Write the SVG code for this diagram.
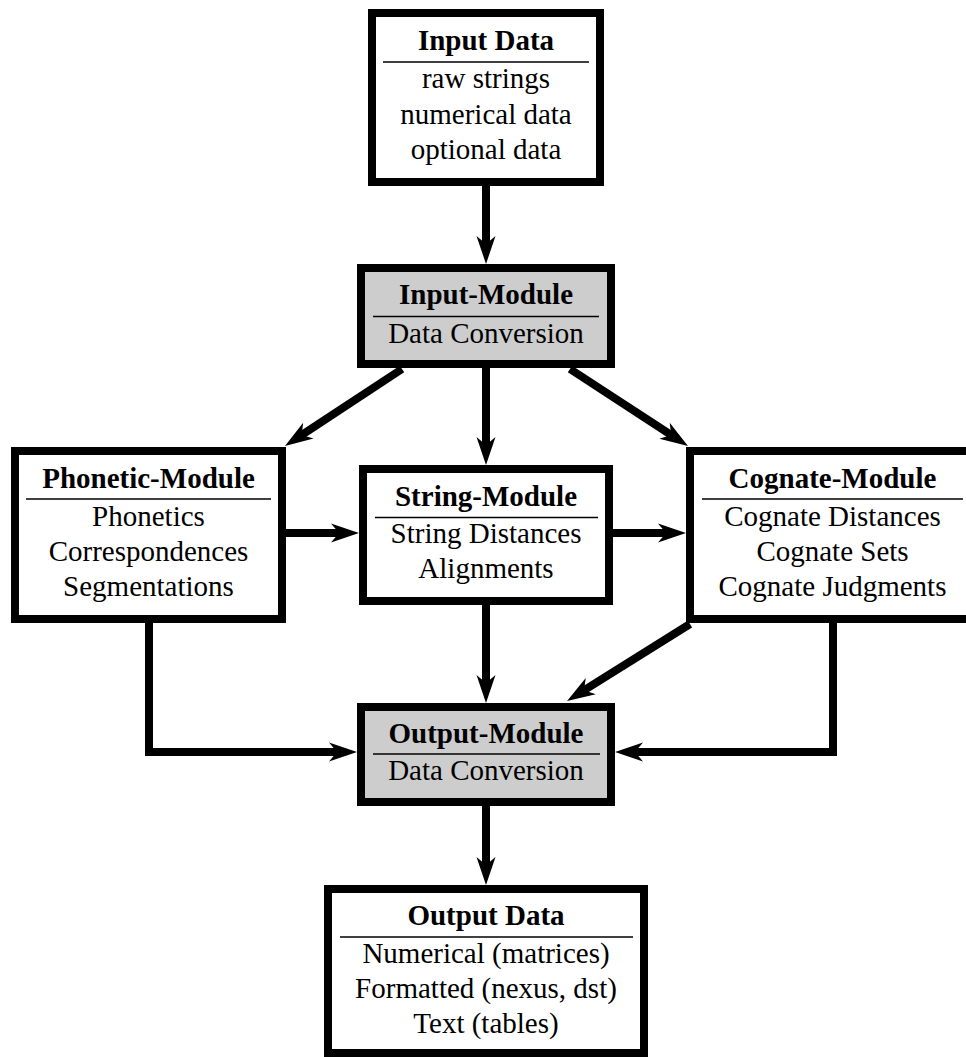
<svg xmlns="http://www.w3.org/2000/svg" width="966" height="1057" viewBox="0 0 966 1057">
  <style>
    .box { fill: #ffffff; stroke: #000000; stroke-width: 8; }
    .mod { fill: #cdcdcd; stroke: #000000; stroke-width: 8; }
    .sep { stroke: #000000; stroke-width: 1.3; }
    .t { font-family: "Liberation Serif", "Times New Roman", serif; font-size: 29px; text-anchor: middle; fill: #000; }
    .b { font-weight: bold; }
    .c { fill: none; stroke: #000000; stroke-width: 8; stroke-linejoin: miter; }
  </style>
  <defs>
    <marker id="ah" markerUnits="userSpaceOnUse" viewBox="0 0 30 20" markerWidth="30" markerHeight="20" refX="12" refY="10" orient="auto">
      <path d="M30,10 L2,0.5 L10,10 L2,19.5 Z" fill="#000"/>
    </marker>
  </defs>

  <g id="connectors">
    <path class="c" d="M486,184 V246" marker-end="url(#ah)"/>
    <path class="c" d="M486,366 V447" marker-end="url(#ah)"/>
    <path class="c" d="M402,369 L300,436.1" marker-end="url(#ah)"/>
    <path class="c" d="M570,369 L672.9,436.2" marker-end="url(#ah)"/>
    <path class="c" d="M284,533 H341" marker-end="url(#ah)"/>
    <path class="c" d="M611,533 H668" marker-end="url(#ah)"/>
    <path class="c" d="M486,603 V685" marker-end="url(#ah)"/>
    <path class="c" d="M690,624 L582.3,691.4" marker-end="url(#ah)"/>
    <path class="c" d="M149,619 V752 H339" marker-end="url(#ah)"/>
    <path class="c" d="M833,619 V752 H633" marker-end="url(#ah)"/>
    <path class="c" d="M486,804 V867" marker-end="url(#ah)"/>
  </g>

  <g id="input-data">
    <rect class="box" x="372" y="13" width="228" height="169"/>
    <text class="t b" x="486" y="50">Input Data</text>
    <line class="sep" x1="383" y1="62" x2="589" y2="62"/>
    <text class="t" x="486" y="88">raw strings</text>
    <text class="t" x="486" y="123.5">numerical data</text>
    <text class="t" x="486" y="159">optional data</text>
  </g>

  <g id="input-module">
    <rect class="mod" x="361" y="268" width="250" height="96"/>
    <text class="t b" x="486" y="304">Input-Module</text>
    <line class="sep" x1="373" y1="316.5" x2="599" y2="316.5"/>
    <text class="t" x="486" y="342.5">Data Conversion</text>
  </g>

  <g id="phonetic-module">
    <rect class="box" x="15" y="451" width="267" height="168"/>
    <text class="t b" x="148.5" y="487.5">Phonetic-Module</text>
    <line class="sep" x1="26" y1="499" x2="271" y2="499"/>
    <text class="t" x="148.5" y="525.5">Phonetics</text>
    <text class="t" x="148.5" y="560.5">Correspondences</text>
    <text class="t" x="148.5" y="595.5">Segmentations</text>
  </g>

  <g id="string-module">
    <rect class="box" x="363" y="469" width="246" height="132"/>
    <text class="t b" x="486" y="506">String-Module</text>
    <line class="sep" x1="375" y1="517.5" x2="598" y2="517.5"/>
    <text class="t" x="486" y="542.5">String Distances</text>
    <text class="t" x="486" y="577.5">Alignments</text>
  </g>

  <g id="cognate-module">
    <rect class="box" x="690" y="451" width="289" height="168"/>
    <text class="t b" x="832.5" y="487.5">Cognate-Module</text>
    <line class="sep" x1="702" y1="499" x2="963" y2="499"/>
    <text class="t" x="832.5" y="525.5">Cognate Distances</text>
    <text class="t" x="832.5" y="560.5">Cognate Sets</text>
    <text class="t" x="832.5" y="595.5">Cognate Judgments</text>
  </g>

  <g id="output-module">
    <rect class="mod" x="361" y="707" width="250" height="95"/>
    <text class="t b" x="486" y="742.5">Output-Module</text>
    <line class="sep" x1="373" y1="754" x2="600" y2="754"/>
    <text class="t" x="486" y="779.5">Data Conversion</text>
  </g>

  <g id="output-data">
    <rect class="box" x="328" y="889" width="316" height="164"/>
    <text class="t b" x="486" y="925">Output Data</text>
    <line class="sep" x1="340" y1="937" x2="633" y2="937"/>
    <text class="t" x="486" y="963">Numerical (matrices)</text>
    <text class="t" x="486" y="998">Formatted (nexus, dst)</text>
    <text class="t" x="486" y="1033">Text (tables)</text>
  </g>
</svg>
